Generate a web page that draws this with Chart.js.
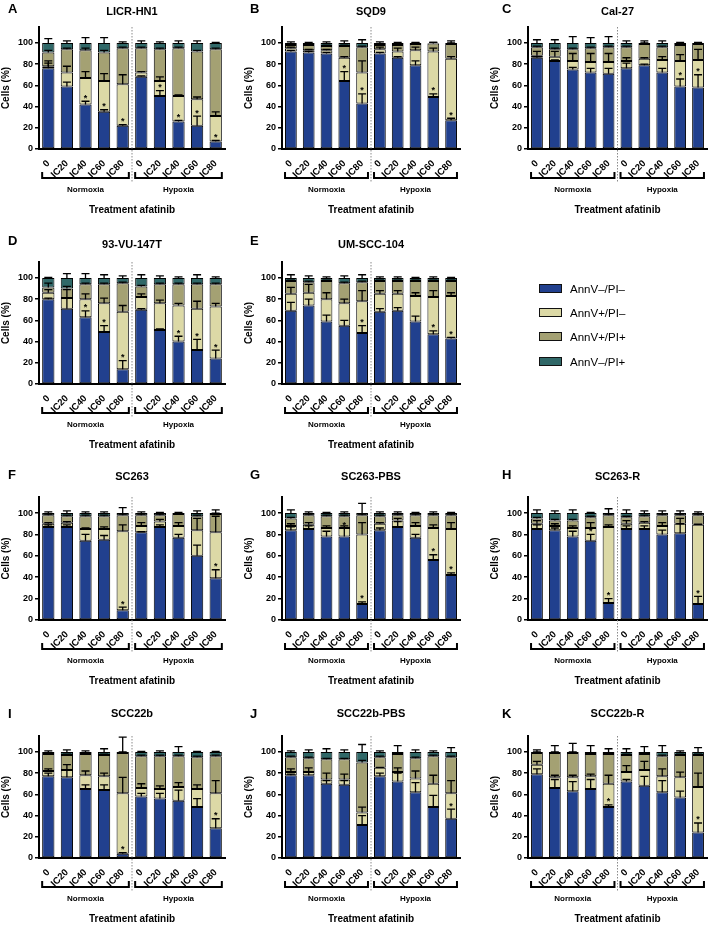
<!DOCTYPE html>
<html>
<head>
<meta charset="utf-8">
<script src="https://cdn.jsdelivr.net/npm/chart.js@4.4.1/dist/chart.umd.min.js"></script>
<style>
  body { margin: 0; background: #fff; }
  #fig { position: relative; width: 709px; height: 926px; overflow: hidden; font-family: "Liberation Sans", Arial, sans-serif; }
  #fig canvas { position: absolute; }
  .key { position: absolute; left: 539px; width: 120px; height: 12px; font-size: 11.5px; color: #000; line-height: 12px; will-change: transform; background: #fff; }
  .key i { position: absolute; left: 0; top: 1px; width: 21px; height: 7px; border: 1.5px solid #111; }
  .key span { position: absolute; left: 31px; top: 0; white-space: nowrap; color: #000; }
</style>
</head>
<body>
<div id="fig"></div>
<script>
// x categories and series
const doseLabels = ['0', 'IC20', 'IC40', 'IC60', 'IC80', '0', 'IC20', 'IC40', 'IC60', 'IC80'];
const groupLabels = ['Normoxia', 'Hypoxia'];
const seriesNames = ['AnnV\u2013/PI\u2013', 'AnnV+/PI\u2013', 'AnnV+/PI+', 'AnnV\u2013/PI+'];
const seriesColors = ['#21408e', '#dcd9a6', '#a4a173', '#306868'];

// each panel: rows = AnnV-/PI-, AnnV+/PI-, AnnV+/PI+, AnnV-/PI+ (% of cells)
const licrHN1 = [
  [76, 59, 42, 35, 22, 68, 50, 26, 22, 7],
  [2, 13, 25, 29, 39, 4, 14, 24, 25, 24],
  [13, 22, 26, 27, 34, 23, 30, 45, 45, 63],
  [9, 6, 7, 9, 5, 5, 6, 5, 8, 6]];
const licrHN1Err = [
  [5, 4, 3, 2, 1, 1, 5, 1, 9, 1],
  [5, 6, 6, 7, 9, 1, 4, 1, 2, 4],
  [2, 1, 2, 2, 1, 1, 1, 1, 1, 1],
  [4, 2, 5, 5, 1, 2, 1, 2, 2, 0.5]];
const licrHN1Stars = [2, 3, 4, 6, 7, 8, 9];

const sqd9 = [
  [92, 91, 90, 64, 43, 90, 86, 79, 49, 27],
  [3, 2, 3, 22, 29, 4, 6, 14, 43, 58],
  [3, 5, 4, 11, 24, 4, 6, 6, 7.5, 14],
  [2, 2, 3, 3, 4, 2, 2, 1, 0.5, 1]];
const sqd9Err = [
  [1, 1, 1, 9, 9, 1, 1, 4, 3, 2],
  [1, 1, 1, 1, 11, 2, 3, 3, 3, 2],
  [1, 1, 1, 1, 1, 1, 1, 1, 1, 1],
  [1, 0.5, 1, 2, 3, 1, 0.5, 0.5, 0.5, 2]];
const sqd9Stars = [3, 4, 8, 9];

const cal27 = [
  [86, 83, 75, 72, 71, 76, 79, 72, 59, 58],
  [2, 4, 8, 10, 11, 7, 6, 12, 24, 26],
  [8, 7, 11, 13, 14, 13, 14, 12, 15, 15],
  [4, 6, 6, 5, 4, 4, 1, 4, 2, 1]];
const cal27Err = [
  [1, 1, 2, 4, 5, 5, 1, 4, 7, 12],
  [4, 5, 7, 8, 8, 3, 1, 3, 6, 10],
  [1, 1, 1, 1, 1, 1, 1, 1, 1, 1],
  [3, 3, 6, 5, 6, 2, 2, 2, 0.5, 0.5]];
const cal27Stars = [8, 9];

const vu147T = [
  [80, 71, 63, 49, 14, 70, 51, 40, 32, 24],
  [6, 10, 17, 27, 54, 12, 25, 34, 39, 49],
  [5, 9, 14, 18, 27, 10, 18, 20, 23, 21],
  [9, 10, 6, 6, 5, 8, 6, 6, 6, 6]];
const vu147TErr = [
  [1, 10, 6, 6, 8, 1, 1, 5, 10, 8],
  [3, 8, 5, 5, 6, 3, 3, 2, 7, 3],
  [4, 2, 1, 1, 1, 1, 1, 1, 1, 1],
  [0.5, 4, 4, 3, 2, 3, 2, 1, 3, 1]];
const vu147TStars = [2, 3, 4, 7, 8, 9];

const umScc104 = [
  [69, 74, 59, 55, 48, 68, 69, 59, 47, 43],
  [16, 12, 21, 21, 30, 17, 16, 24, 35, 40],
  [12, 10, 17, 19, 18, 12, 12, 14, 15, 14],
  [3, 4, 3, 5, 4, 3, 3, 3, 3, 3]];
const umScc104Err = [
  [8, 6, 6, 5, 7, 3, 3, 5, 3, 1],
  [6, 8, 6, 4, 10, 3, 3, 3, 6, 3],
  [1, 1, 1, 1, 1, 1, 1, 1, 1, 1],
  [3, 2, 1, 2, 3, 1, 1, 0.5, 1, 0.5]];
const umScc104Stars = [4, 8, 9];

const sc263 = [
  [87, 87, 74, 75, 9, 82, 87, 77, 60, 39],
  [3, 4, 11, 10, 74, 6, 5, 11, 24, 43],
  [8, 6, 12, 12, 15, 10, 6, 11, 13, 17],
  [2, 3, 3, 3, 2, 2, 2, 1, 3, 1]];
const sc263Err = [
  [2, 2, 6, 4, 3, 0.5, 2, 3, 10, 8],
  [1, 1, 1, 2, 6, 3, 2, 3, 11, 15],
  [1, 1, 1, 1, 1, 1, 1, 0.5, 1, 1],
  [1, 2, 1, 1, 5, 1, 0.5, 0.5, 2, 3]];
const sc263Stars = [4, 9];

const sc263Pbs = [
  [84, 85, 78, 78, 15, 84, 87, 77, 56, 42],
  [4, 4, 8, 8, 65, 6, 6, 11, 30, 43],
  [7, 9, 11, 11, 18, 7, 5, 10, 12, 13],
  [5, 2, 3, 3, 2, 3, 2, 2, 2, 2]];
const sc263PbsErr = [
  [3, 3, 5, 8, 2, 2, 5, 3, 5, 2],
  [2, 2, 2, 2, 11, 1, 2, 3, 3, 6],
  [1, 1, 1, 1, 1, 1, 1, 1, 1, 1],
  [3, 1, 0.5, 1, 9, 1, 1, 0.5, 1, 0.5]];
const sc263PbsStars = [3, 4, 8, 9];

const sc263R = [
  [85, 84, 78, 74, 16, 85, 85, 80, 81, 15],
  [5, 4, 8, 12, 71, 5, 6, 8, 9, 74],
  [5, 5, 7, 10, 11, 6, 6, 10, 8, 9],
  [5, 7, 7, 4, 2, 4, 3, 2, 2, 2]];
const sc263RErr = [
  [4, 2, 5, 6, 4, 3, 3, 4, 9, 7],
  [3, 2, 2, 5, 2, 3, 1, 3, 5, 0.5],
  [1, 1, 1, 1, 1, 1, 1, 1, 1, 1],
  [3, 2, 3, 0.5, 4, 3, 2, 2, 2, 1]];
const sc263RStars = [3, 4, 9];

const scc22b = [
  [77, 76, 65, 64, 4, 58, 56, 54, 48, 28],
  [5, 7, 13, 13, 57, 8, 9, 13, 17, 33],
  [16, 14, 20, 20, 38, 30, 31, 29, 30, 35],
  [2, 3, 2, 3, 1, 4, 4, 4, 5, 4]];
const scc22bErr = [
  [3, 7, 4, 5, 1, 3, 5, 10, 8, 9],
  [2, 5, 4, 3, 15, 4, 3, 4, 4, 12],
  [1, 1, 1, 1, 1, 1, 1, 1, 1, 1],
  [1, 2, 1, 3, 14, 0.5, 1, 5, 0.5, 0.5]];
const scc22bStars = [4, 9];

const scc22bPbs = [
  [78, 78, 70, 69, 31, 77, 72, 62, 48, 37],
  [3, 3, 4, 5, 12, 8, 9, 13, 22, 24],
  [14, 13, 19, 19, 47, 10, 17, 19, 26, 34],
  [5, 6, 7, 7, 10, 5, 2, 6, 4, 5]];
const scc22bPbsErr = [
  [1, 3, 3, 4, 9, 3, 8, 9, 11, 9],
  [3, 4, 6, 5, 5, 0.5, 4, 7, 8, 12],
  [1, 1, 1, 1, 2, 1, 1, 1, 1, 1],
  [1, 2, 3, 2, 7, 1, 6, 2, 1, 4]];
const scc22bPbsStars = [9];

const scc22bR = [
  [79, 66, 63, 65, 48, 72, 68, 62, 57, 24],
  [9, 10, 13, 12, 22, 9, 15, 15, 19, 43],
  [11, 23, 23, 21, 28, 16, 15, 19, 21, 30],
  [1, 1, 1, 2, 2, 3, 2, 4, 3, 3]];
const scc22bRErr = [
  [5, 8, 9, 9, 2, 2, 9, 11, 6, 9],
  [3, 2, 2, 2, 8, 6, 8, 7, 5, 13],
  [1, 1, 1, 1, 1, 1, 1, 1, 1, 1],
  [2, 6, 8, 6, 3, 3, 5, 6, 1, 4]];
const scc22bRStars = [4, 9];

const FONT = '"Liberation Sans", Arial, sans-serif';
Chart.defaults.font.family = FONT;

// page layout (pixels)
const H = 236;
const cols = [
  { L: 0, W: 235, left: 39, right: 225, letterX: 8 },
  { L: 243, W: 235, left: 282, right: 460, letterX: 7 },
  { L: 489, W: 220, left: 528, right: 707, letterX: 13 }
];
const rows = [
  { T: 0, top: 27, zero: 149, titleY: 12, letterY: 9 },
  { T: 230, top: 32, zero: 154, titleY: 15, letterY: 11 },
  { T: 460, top: 37, zero: 160, titleY: 17, letterY: 15 },
  { T: 690, top: 46, zero: 168, titleY: 24, letterY: 24 }
];

const panels = [
  { letter: 'A', title: 'LICR-HN1', col: 0, row: 0, data: licrHN1, err: licrHN1Err, stars: licrHN1Stars },
  { letter: 'B', title: 'SQD9', col: 1, row: 0, data: sqd9, err: sqd9Err, stars: sqd9Stars },
  { letter: 'C', title: 'Cal-27', col: 2, row: 0, data: cal27, err: cal27Err, stars: cal27Stars },
  { letter: 'D', title: '93-VU-147T', col: 0, row: 1, data: vu147T, err: vu147TErr, stars: vu147TStars },
  { letter: 'E', title: 'UM-SCC-104', col: 1, row: 1, data: umScc104, err: umScc104Err, stars: umScc104Stars },
  { letter: 'F', title: 'SC263', col: 0, row: 2, data: sc263, err: sc263Err, stars: sc263Stars },
  { letter: 'G', title: 'SC263-PBS', col: 1, row: 2, data: sc263Pbs, err: sc263PbsErr, stars: sc263PbsStars },
  { letter: 'H', title: 'SC263-R', col: 2, row: 2, data: sc263R, err: sc263RErr, stars: sc263RStars },
  { letter: 'I', title: 'SCC22b', col: 0, row: 3, data: scc22b, err: scc22bErr, stars: scc22bStars },
  { letter: 'J', title: 'SCC22b-PBS', col: 1, row: 3, data: scc22bPbs, err: scc22bPbsErr, stars: scc22bPbsStars },
  { letter: 'K', title: 'SCC22b-R', col: 2, row: 3, data: scc22bR, err: scc22bRErr, stars: scc22bRStars }
];

// error bars, stars, divider, brackets and texts
function decoPlugin(p, cb, rb) {
  return {
    id: 'deco' + p.letter,
    afterDatasetsDraw(chart) {
      const ctx = chart.ctx, ys = chart.scales.y;
      ctx.save();
      ctx.strokeStyle = '#000';
      ctx.lineWidth = 1.3;
      for (let k = 0; k < p.data.length; k++) {
        const meta = chart.getDatasetMeta(k);
        meta.data.forEach(function (bar, i) {
          let cum = 0;
          for (let j = 0; j <= k; j++) cum += p.data[j][i];
          const y0 = ys.getPixelForValue(cum);
          const y1 = ys.getPixelForValue(cum + p.err[k][i]);
          ctx.beginPath();
          ctx.moveTo(bar.x, y0);
          ctx.lineTo(bar.x, y1);
          ctx.moveTo(bar.x - 4, y1);
          ctx.lineTo(bar.x + 4, y1);
          ctx.stroke();
        });
      }
      // significance marks sit above the live-cell error bar
      const m0 = chart.getDatasetMeta(0);
      ctx.fillStyle = '#000';
      ctx.font = 'bold 9px ' + FONT;
      ctx.textAlign = 'center';
      ctx.textBaseline = 'middle';
      p.stars.forEach(function (i) {
        const y = ys.getPixelForValue(p.data[0][i] + p.err[0][i]);
        ctx.fillText('*', m0.data[i].x, y - 3);
      });
      ctx.restore();
    },
    afterDraw(chart) {
      const ctx = chart.ctx, area = chart.chartArea;
      const bars = chart.getDatasetMeta(0).data;
      const zero = area.bottom;
      ctx.save();
      // dotted divider between normoxia and hypoxia
      const xd = (bars[4].x + bars[5].x) / 2;
      ctx.strokeStyle = '#8a8a8a';
      ctx.lineWidth = 1;
      ctx.setLineDash([1.5, 1.5]);
      ctx.beginPath();
      ctx.moveTo(xd, area.top);
      ctx.lineTo(xd, zero + 33);
      ctx.stroke();
      ctx.setLineDash([]);
      // brackets + group names
      ctx.strokeStyle = '#000';
      ctx.lineWidth = 2;
      ctx.fillStyle = '#000';
      ctx.textAlign = 'center';
      ctx.textBaseline = 'middle';
      ctx.font = 'bold 8px ' + FONT;
      const yb = zero + 29;
      groupLabels.forEach(function (name, g) {
        const a = bars[g * 5], b = bars[g * 5 + 4];
        const x1 = a.x - a.width / 2, x2 = b.x + b.width / 2;
        ctx.beginPath();
        ctx.moveTo(x1, yb - 6);
        ctx.lineTo(x1, yb);
        ctx.lineTo(x2, yb);
        ctx.lineTo(x2, yb - 6);
        ctx.stroke();
        ctx.fillText(name, bars[g * 5 + 2].x, zero + 41);
      });
      const cx = (area.left + area.right) / 2;
      ctx.font = 'bold 10px ' + FONT;
      ctx.fillText('Treatment afatinib', cx, zero + 61);
      ctx.font = 'bold 11px ' + FONT;
      ctx.fillText(p.title, cx, rb.titleY);
      ctx.font = 'bold 13px ' + FONT;
      ctx.textAlign = 'left';
      ctx.fillText(p.letter, cb.letterX, rb.letterY);
      ctx.restore();
    }
  };
}

const fig = document.getElementById('fig');

panels.forEach(function (p) {
  const cb = cols[p.col], rb = rows[p.row];
  const cv = document.createElement('canvas');
  cv.width = cb.W;
  cv.height = H;
  cv.style.left = cb.L + 'px';
  cv.style.top = rb.T + 'px';
  fig.appendChild(cv);

  new Chart(cv.getContext('2d'), {
    type: 'bar',
    data: {
      labels: doseLabels,
      datasets: p.data.map(function (vals, k) {
        return {
          label: seriesNames[k],
          data: vals,
          backgroundColor: seriesColors[k],
          borderColor: '#000',
          borderWidth: 1,
          borderSkipped: false,
          barPercentage: 0.66,
          categoryPercentage: 1
        };
      })
    },
    options: {
      responsive: false,
      animation: false,
      devicePixelRatio: 1,
      layout: { padding: { top: rb.top, right: (cb.L + cb.W) - cb.right, bottom: 0, left: 0 } },
      plugins: { legend: { display: false }, tooltip: { enabled: false } },
      scales: {
        x: {
          stacked: true,
          grid: { display: false },
          border: { color: '#000', width: 2 },
          ticks: {
            color: '#000', autoSkip: false, maxRotation: 45, minRotation: 45, padding: 1,
            font: { size: 9.5, weight: 'bold' }
          },
          afterFit: function (s) { s.height = H - rb.zero; }
        },
        y: {
          stacked: true,
          min: 0,
          max: 115,
          border: { color: '#000', width: 2 },
          grid: { drawOnChartArea: false, color: '#000', lineWidth: 1.5, tickLength: 4 },
          ticks: {
            stepSize: 20, includeBounds: false, color: '#000', padding: 2,
            font: { size: 9, weight: 'bold' }
          },
          title: { display: true, text: 'Cells (%)', color: '#000', padding: 0, font: { size: 10, weight: 'bold' } },
          afterFit: function (s) { s.width = cb.left - cb.L; }
        }
      }
    },
    plugins: [decoPlugin(p, cb, rb)]
  });
});

// legend
const keyY = [289, 313, 337, 362];
seriesNames.forEach(function (name, k) {
  const d = document.createElement('div');
  d.className = 'key';
  d.style.top = (keyY[k] - 6) + 'px';
  d.innerHTML = '<i style="background:' + seriesColors[k] + '"></i><span>' + name + '</span>';
  fig.appendChild(d);
});
</script>
</body>
</html>
